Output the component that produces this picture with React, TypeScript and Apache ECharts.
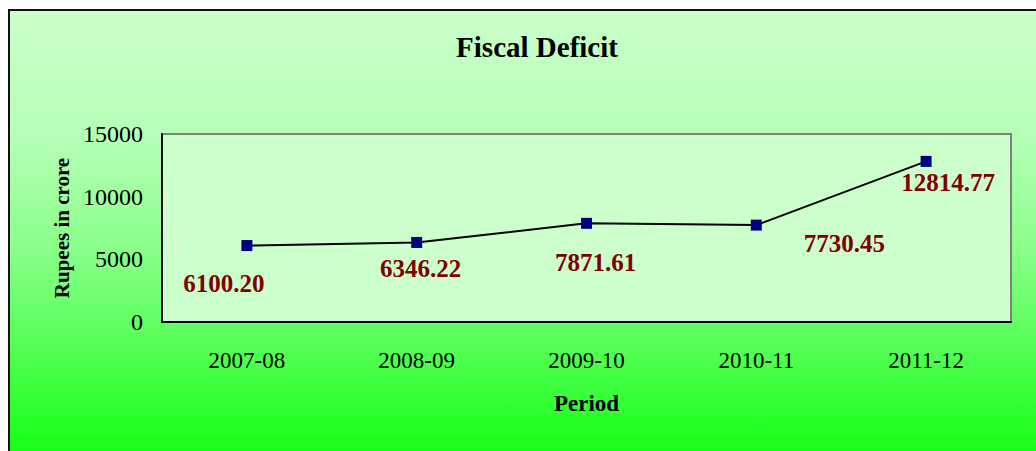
import React, { useEffect, useRef } from "react";
import * as echarts from "echarts";

const categories = ["2007-08", "2008-09", "2009-10", "2010-11", "2011-12"];
const deficit = [6100.2, 6346.22, 7871.61, 7730.45, 12814.77];
const yTicks = { min: 0, max: 15000, interval: 5000 };
const labelShift: [number, number][] = [
  [-23, 38],
  [4, 26],
  [9, 39],
  [88, 18],
  [22, 21],
];

const SERIF = '"Liberation Serif", "Times New Roman", Times, serif';

export default function App() {
  const ref = useRef<HTMLDivElement>(null);
  useEffect(() => {
    if (!ref.current) return;
    const chart = echarts.init(ref.current, undefined, { renderer: "svg" });
    chart.setOption({
      animation: false,
      backgroundColor: "#ffffff",
      graphic: [
        {
          type: "rect",
          z: -10,
          shape: { x: 9, y: 10, width: 1060, height: 470 },
          style: {
            fill: new echarts.graphic.LinearGradient(0, 0, 0, 1, [
              { offset: 0, color: "#caffca" },
              { offset: 0.27, color: "#b6ffb6" },
              { offset: 0.5, color: "#8cff8c" },
              { offset: 0.7, color: "#5aff5a" },
              { offset: 0.85, color: "#30ff30" },
              { offset: 1, color: "#06ff06" },
            ]),
            stroke: "#111111",
            lineWidth: 2,
          },
        },
      ],
      title: {
        text: "Fiscal Deficit",
        left: 532,
        textAlign: "center",
        top: 27,
        textStyle: {
          fontFamily: SERIF,
          fontSize: 29,
          fontWeight: "bold",
          color: "#000",
        },
      },
      grid: {
        left: 162,
        top: 134,
        right: 25,
        bottom: 129,
        show: true,
        backgroundColor: "#ccffcc",
        borderColor: "#808080",
        borderWidth: 2,
      },
      xAxis: {
        type: "category",
        data: categories,
        boundaryGap: true,
        name: "Period",
        nameLocation: "middle",
        nameGap: 70,
        nameTextStyle: {
          fontFamily: SERIF,
          fontSize: 23,
          fontWeight: "bold",
          color: "#000",
        },
        axisLine: { lineStyle: { color: "#000", width: 2 } },
        axisTick: { show: false },
        axisLabel: {
          fontFamily: SERIF,
          fontSize: 23,
          color: "#000",
          margin: 27,
        },
        splitLine: { show: false },
        z: 3,
      },
      yAxis: {
        type: "value",
        min: yTicks.min,
        max: yTicks.max,
        interval: yTicks.interval,
        name: "Rupees in crore",
        nameLocation: "middle",
        nameGap: 87,
        nameTextStyle: {
          fontFamily: SERIF,
          fontSize: 21,
          fontWeight: "bold",
          color: "#000",
        },
        axisLine: { show: true, lineStyle: { color: "#000", width: 2 } },
        axisTick: { show: false },
        axisLabel: {
          fontFamily: SERIF,
          fontSize: 24,
          color: "#000",
          margin: 19,
          formatter: (v: number) => String(v),
        },
        splitLine: { show: false },
        z: 3,
      },
      series: [
        {
          type: "line",
          data: deficit.map((v, i) => ({
            value: v,
            label: { offset: labelShift[i] },
          })),
          symbol: "rect",
          symbolSize: 11,
          itemStyle: { color: "#000080" },
          lineStyle: { color: "#000", width: 2 },
          label: {
            show: true,
            position: "inside",
            formatter: (p: any) => Number(p.value).toFixed(2),
            fontFamily: SERIF,
            fontSize: 25,
            fontWeight: "bold",
            color: "#800000",
          },
          z: 5,
        },
      ],
    });
    return () => chart.dispose();
  }, []);
  return (
    <div
      ref={ref}
      style={{ position: "fixed", left: 0, top: 0, width: 1036, height: 451 }}
    />
  );
}
